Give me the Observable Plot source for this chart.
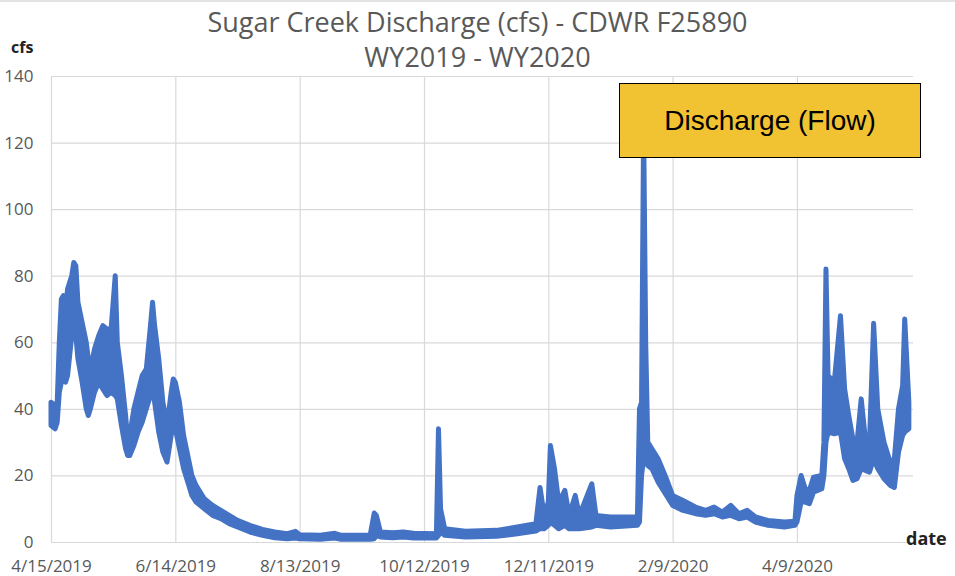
<!DOCTYPE html>
<html><head><meta charset="utf-8">
<script src="https://cdn.jsdelivr.net/npm/d3@7"></script>
<script src="https://cdn.jsdelivr.net/npm/@observablehq/plot@0.6"></script>
<style>
body{margin:0;background:#fff;}
#wrap{position:relative;width:955px;height:576px;overflow:hidden;font-family:"Open Sans",sans-serif;}
#topline{position:absolute;left:0;top:0;width:955px;height:2px;background:#e3e3e3;}
#title{position:absolute;left:0;top:4px;width:955px;text-align:center;font-size:27px;line-height:35px;color:#595959;}
#cfs{position:absolute;left:11px;top:36px;font-weight:bold;font-size:16px;color:#222;}
#date{position:absolute;left:906px;top:526px;font-weight:bold;font-size:18px;color:#222;}
#legend{position:absolute;left:619px;top:83px;width:302px;height:75px;box-sizing:border-box;border:1.5px solid #000;background:#F1C232;display:flex;align-items:center;justify-content:center;font-family:"Liberation Sans",Arial,sans-serif;font-size:28px;color:#000;}
#chart{position:absolute;left:0;top:0;}
</style></head><body>
<div id="wrap">
  <div id="chart"></div>
  <div id="topline"></div>
  <div id="title">Sugar Creek Discharge (cfs) - CDWR F25890<br>WY2019 - WY2020</div>
  <div id="cfs">cfs</div>
  <div id="date">date</div>
  <div id="legend">Discharge (Flow)</div>
</div>
<script>
const dates = ["2019-04-15","2019-04-17","2019-04-18","2019-04-19","2019-04-20","2019-04-21","2019-04-22","2019-04-23","2019-04-25","2019-04-26","2019-04-27","2019-04-28","2019-04-30","2019-05-02","2019-05-03","2019-05-04","2019-05-06","2019-05-08","2019-05-10","2019-05-12","2019-05-14","2019-05-16","2019-05-17","2019-05-19","2019-05-21","2019-05-22","2019-05-23","2019-05-25","2019-05-27","2019-05-29","2019-05-31","2019-06-02","2019-06-03","2019-06-04","2019-06-06","2019-06-08","2019-06-10","2019-06-11","2019-06-12","2019-06-13","2019-06-14","2019-06-16","2019-06-18","2019-06-20","2019-06-22","2019-06-24","2019-06-28","2019-07-02","2019-07-06","2019-07-10","2019-07-14","2019-07-20","2019-07-26","2019-08-01","2019-08-07","2019-08-11","2019-08-13","2019-08-23","2019-08-30","2019-09-02","2019-09-16","2019-09-18","2019-09-19","2019-09-21","2019-09-27","2019-10-02","2019-10-07","2019-10-18","2019-10-19","2019-10-20","2019-10-22","2019-11-01","2019-11-16","2019-11-26","2019-12-05","2019-12-07","2019-12-09","2019-12-11","2019-12-12","2019-12-14","2019-12-16","2019-12-19","2019-12-21","2019-12-24","2019-12-26","2020-01-01","2020-01-03","2020-01-10","2020-01-23","2020-01-24","2020-01-25","2020-01-26","2020-01-27","2020-01-28","2020-01-30","2020-02-02","2020-02-06","2020-02-09","2020-02-14","2020-02-20","2020-02-25","2020-02-29","2020-03-04","2020-03-08","2020-03-12","2020-03-16","2020-03-20","2020-03-26","2020-04-03","2020-04-08","2020-04-09","2020-04-11","2020-04-13","2020-04-15","2020-04-17","2020-04-21","2020-04-22","2020-04-23","2020-04-24","2020-04-27","2020-04-30","2020-05-02","2020-05-04","2020-05-06","2020-05-08","2020-05-10","2020-05-12","2020-05-14","2020-05-16","2020-05-18","2020-05-21","2020-05-24","2020-05-26","2020-05-28","2020-05-30","2020-05-31","2020-06-02"];
const lows = [35,34,36,45,48,50,48,50,62,65,62,55,48,40,38,40,45,48,46,44,45,44,43,35,28,26,26,29,33,36,40,44,46,42,33,27,24,28,32,36,34,28,22,18,14,12,10,8,7,5.5,4.5,3,2,1.3,1,1.2,1,0.8,1.2,0.8,0.8,1,2,1.5,1.3,1.5,1.2,1.2,2,3,2,1.5,1.7,2.5,3.3,4,4,5,6,5,4,5,4,4,4,4.5,5,4.5,5,6,20,25,28,23,22,18,14,11,9.5,8.5,8,8.5,7.5,8,7,7.5,6,5,4.5,5,6,12,12,11.5,15,16,20,30,33,32.5,33,25,22,18.5,19,22,21.5,21,25,22,19,17,16.4,27,32,33,34];
const highs = [42,41,42,60,73,74,70,76,80,84,83,72,66,60,55,52,58,62,65,64,64,80,60,50,38,31,32,40,45,50,52,65,72,65,55,42,35,40,45,49,48,42,32,26,20,17,13,11,9.5,8,6.5,5,3.8,3,2.5,3.2,2.2,2,2.6,2,2,8.7,8,3,2.8,3,2.6,2.5,34,10,4,3.2,3.5,4.5,5.5,16.4,8,12,29,22,12,15.5,8,14,8,17.5,8,7.5,7.5,40,42,125,60,30,28,25,19,14,12.5,10.5,9.5,10.5,9,11,8.5,9.5,7.5,6.5,6,6.2,14,20,16,15.5,19.5,20,30,82,50,48,68,46,38,31,30,43,31,30,65.7,40,30,24,25,40,47,67,42];
const tickLabels = ["4/15/2019","6/14/2019","8/13/2019","10/12/2019","12/11/2019","2/9/2020","4/9/2020"];
const yTicks = [0,20,40,60,80,100,120,140];
const xDomain = ["2019-04-15","2020-06-04"];

const data = dates.map((d,i)=>({date:new Date(d), lo:lows[i], hi:highs[i]}));
const parseTick = d3.utcParse("%m/%d/%Y");
const xTicks = tickLabels.map(parseTick);

const chart = Plot.plot({
  width:955, height:576,
  marginLeft:51, marginRight:42, marginTop:76, marginBottom:34,
  style:{fontFamily:"Open Sans, sans-serif", fontSize:"17px", color:"#595959", background:"transparent", overflow:"visible"},
  x:{type:"utc", domain:xDomain.map(d=>new Date(d)), ticks:xTicks, tickFormat:d3.utcFormat("%-m/%-d/%Y"), tickSize:0, tickPadding:17, label:null},
  y:{domain:[0,140], ticks:yTicks, tickSize:0, tickPadding:18, label:null},
  marks:[
    Plot.gridX(xTicks,{stroke:"#d9d9d9", strokeOpacity:1, strokeWidth:1.2}),
    Plot.gridY(yTicks,{stroke:"#d9d9d9", strokeOpacity:1, strokeWidth:1.2}),
    Plot.areaY(data,{x:"date", y1:"lo", y2:"hi", fill:"#4472C4", stroke:"#4472C4", strokeWidth:5, strokeLinejoin:"round", strokeLinecap:"round"})
  ]
});
document.getElementById("chart").appendChild(chart);
</script>
</body></html>
